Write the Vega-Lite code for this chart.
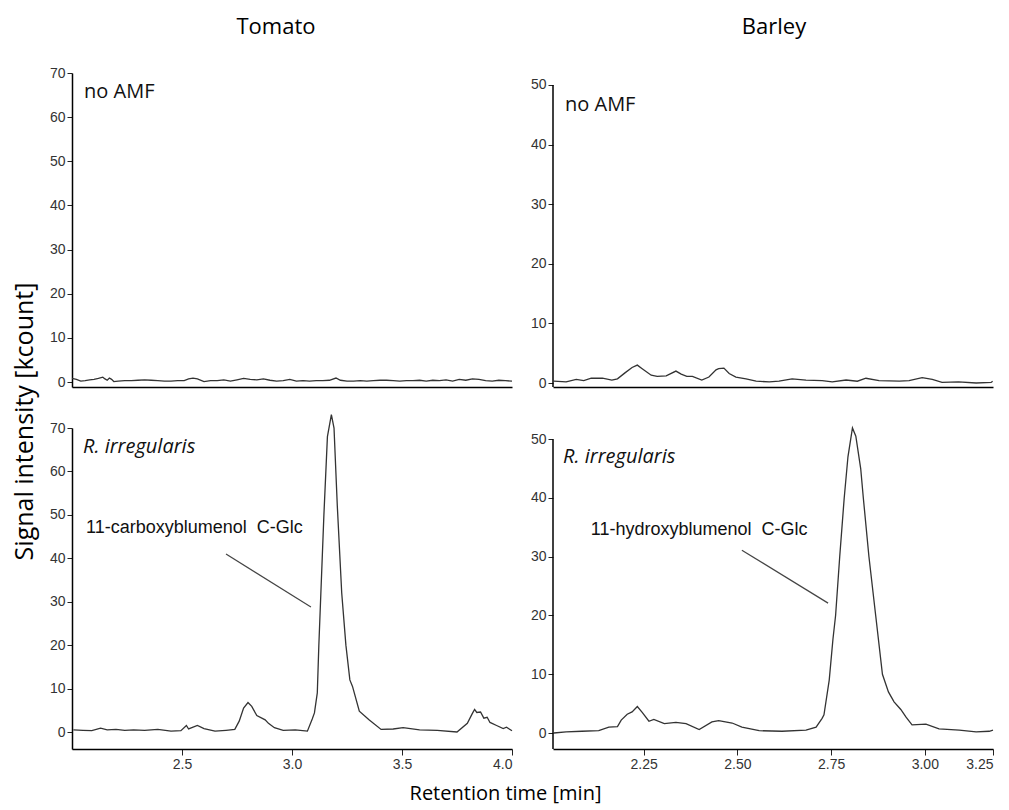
{
  "$schema": "https://vega.github.io/schema/vega-lite/v6.json",
  "padding": {"left": 12, "top": 16, "right": 0, "bottom": 6},
  "bounds": "flush",
  "columns": 2,
  "spacing": {"row": 41, "column": 41},
  "config": {
    "view": {"stroke": null},
    "axis": {
      "grid": false,
      "domainColor": "#000",
      "domainWidth": 1.5,
      "tickColor": "#222",
      "tickWidth": 1,
      "labelFont": "Liberation Sans",
      "labelFontSize": 14,
      "labelColor": "#333",
      "titleFont": "Open Sans",
      "titleFontSize": 21,
      "titleFontWeight": "normal",
      "titleColor": "#000"
    },
    "title": {"font": "Open Sans", "fontSize": 22, "fontWeight": "normal", "color": "#000", "anchor": "middle", "frame": "group", "baseline": "alphabetic"}
  },
  "datasets": {
    "one": [{}],
    "tl": [
      {"t": 2.0, "s": 0.8}, {"t": 2.02, "s": 0.6}, {"t": 2.04, "s": 0.2}, {"t": 2.06, "s": 0.3}, {"t": 2.08, "s": 0.5},
      {"t": 2.1, "s": 0.6}, {"t": 2.12, "s": 0.8}, {"t": 2.14, "s": 1.1}, {"t": 2.15, "s": 0.7}, {"t": 2.16, "s": 0.4},
      {"t": 2.17, "s": 0.9}, {"t": 2.18, "s": 0.6}, {"t": 2.19, "s": 0.1}, {"t": 2.21, "s": 0.2}, {"t": 2.24, "s": 0.3},
      {"t": 2.27, "s": 0.3}, {"t": 2.3, "s": 0.4}, {"t": 2.33, "s": 0.5}, {"t": 2.36, "s": 0.4}, {"t": 2.39, "s": 0.3},
      {"t": 2.42, "s": 0.2}, {"t": 2.45, "s": 0.2}, {"t": 2.48, "s": 0.3}, {"t": 2.51, "s": 0.3}, {"t": 2.53, "s": 0.7},
      {"t": 2.55, "s": 0.9}, {"t": 2.57, "s": 0.7}, {"t": 2.6, "s": 0.1}, {"t": 2.63, "s": 0.3}, {"t": 2.66, "s": 0.3},
      {"t": 2.69, "s": 0.5}, {"t": 2.72, "s": 0.2}, {"t": 2.75, "s": 0.5}, {"t": 2.78, "s": 0.8}, {"t": 2.81, "s": 0.6},
      {"t": 2.84, "s": 0.5}, {"t": 2.87, "s": 0.7}, {"t": 2.9, "s": 0.4}, {"t": 2.93, "s": 0.2}, {"t": 2.96, "s": 0.3},
      {"t": 2.99, "s": 0.6}, {"t": 3.02, "s": 0.2}, {"t": 3.05, "s": 0.3}, {"t": 3.08, "s": 0.2}, {"t": 3.11, "s": 0.3},
      {"t": 3.14, "s": 0.3}, {"t": 3.17, "s": 0.4}, {"t": 3.2, "s": 0.9}, {"t": 3.22, "s": 0.4}, {"t": 3.25, "s": 0.2},
      {"t": 3.28, "s": 0.2}, {"t": 3.31, "s": 0.3}, {"t": 3.34, "s": 0.2}, {"t": 3.37, "s": 0.3}, {"t": 3.4, "s": 0.4},
      {"t": 3.43, "s": 0.4}, {"t": 3.46, "s": 0.3}, {"t": 3.49, "s": 0.2}, {"t": 3.52, "s": 0.3}, {"t": 3.55, "s": 0.3},
      {"t": 3.58, "s": 0.4}, {"t": 3.61, "s": 0.2}, {"t": 3.64, "s": 0.4}, {"t": 3.67, "s": 0.3}, {"t": 3.7, "s": 0.5},
      {"t": 3.73, "s": 0.2}, {"t": 3.76, "s": 0.6}, {"t": 3.79, "s": 0.4}, {"t": 3.82, "s": 0.7}, {"t": 3.85, "s": 0.6},
      {"t": 3.88, "s": 0.3}, {"t": 3.91, "s": 0.2}, {"t": 3.94, "s": 0.4}, {"t": 3.97, "s": 0.3}, {"t": 4.0, "s": 0.2}
    ],
    "tr": [
      {"t": 2.01, "s": 0.3}, {"t": 2.043, "s": 0.2}, {"t": 2.07, "s": 0.6}, {"t": 2.09, "s": 0.4}, {"t": 2.11, "s": 0.8},
      {"t": 2.14, "s": 0.8}, {"t": 2.165, "s": 0.5}, {"t": 2.18, "s": 0.7}, {"t": 2.2, "s": 1.7}, {"t": 2.219, "s": 2.6},
      {"t": 2.233, "s": 3.0}, {"t": 2.246, "s": 2.4}, {"t": 2.27, "s": 1.3}, {"t": 2.286, "s": 1.1}, {"t": 2.31, "s": 1.2},
      {"t": 2.336, "s": 2.0}, {"t": 2.35, "s": 1.5}, {"t": 2.365, "s": 1.1}, {"t": 2.38, "s": 1.1}, {"t": 2.405, "s": 0.5},
      {"t": 2.424, "s": 1.0}, {"t": 2.443, "s": 2.2}, {"t": 2.45, "s": 2.4}, {"t": 2.464, "s": 2.5}, {"t": 2.478, "s": 1.6},
      {"t": 2.496, "s": 1.0}, {"t": 2.523, "s": 0.7}, {"t": 2.55, "s": 0.3}, {"t": 2.585, "s": 0.2}, {"t": 2.611, "s": 0.3},
      {"t": 2.646, "s": 0.7}, {"t": 2.683, "s": 0.5}, {"t": 2.726, "s": 0.4}, {"t": 2.753, "s": 0.2}, {"t": 2.79, "s": 0.5},
      {"t": 2.82, "s": 0.3}, {"t": 2.843, "s": 0.8}, {"t": 2.878, "s": 0.4}, {"t": 2.932, "s": 0.3}, {"t": 2.958, "s": 0.4},
      {"t": 2.993, "s": 0.9}, {"t": 3.02, "s": 0.6}, {"t": 3.046, "s": 0.1}, {"t": 3.09, "s": 0.2}, {"t": 3.137, "s": 0.0},
      {"t": 3.177, "s": 0.1}, {"t": 3.181, "s": 0.3}
    ],
    "bl": [
      {"t": 2.006, "s": 0.5}, {"t": 2.05, "s": 0.4}, {"t": 2.09, "s": 0.3}, {"t": 2.13, "s": 0.9}, {"t": 2.16, "s": 0.5},
      {"t": 2.2, "s": 0.6}, {"t": 2.24, "s": 0.4}, {"t": 2.28, "s": 0.5}, {"t": 2.33, "s": 0.4}, {"t": 2.39, "s": 0.6},
      {"t": 2.45, "s": 0.2}, {"t": 2.495, "s": 0.3}, {"t": 2.52, "s": 1.5}, {"t": 2.53, "s": 0.7}, {"t": 2.57, "s": 1.5},
      {"t": 2.6, "s": 0.8}, {"t": 2.65, "s": 0.2}, {"t": 2.7, "s": 0.4}, {"t": 2.74, "s": 0.6}, {"t": 2.76, "s": 2.5},
      {"t": 2.78, "s": 5.5}, {"t": 2.8, "s": 6.8}, {"t": 2.817, "s": 5.9}, {"t": 2.84, "s": 3.8}, {"t": 2.878, "s": 2.8},
      {"t": 2.893, "s": 2.0}, {"t": 2.92, "s": 1.0}, {"t": 2.96, "s": 0.4}, {"t": 3.015, "s": 0.5}, {"t": 3.07, "s": 0.2},
      {"t": 3.092, "s": 3.0}, {"t": 3.102, "s": 4.4}, {"t": 3.115, "s": 9.0}, {"t": 3.122, "s": 20.0}, {"t": 3.145, "s": 50.0},
      {"t": 3.161, "s": 68.0}, {"t": 3.179, "s": 73.1}, {"t": 3.191, "s": 70.0}, {"t": 3.206, "s": 52.0}, {"t": 3.226, "s": 32.0},
      {"t": 3.245, "s": 20.0}, {"t": 3.263, "s": 12.0}, {"t": 3.275, "s": 10.5}, {"t": 3.306, "s": 4.8}, {"t": 3.35, "s": 2.8},
      {"t": 3.405, "s": 0.6}, {"t": 3.46, "s": 0.7}, {"t": 3.505, "s": 1.0}, {"t": 3.58, "s": 0.5}, {"t": 3.66, "s": 0.4},
      {"t": 3.75, "s": 0.0}, {"t": 3.797, "s": 2.0}, {"t": 3.82, "s": 4.3}, {"t": 3.83, "s": 5.2}, {"t": 3.84, "s": 4.5},
      {"t": 3.857, "s": 4.6}, {"t": 3.872, "s": 3.2}, {"t": 3.887, "s": 3.4}, {"t": 3.9, "s": 2.2}, {"t": 3.93, "s": 1.5},
      {"t": 3.96, "s": 0.8}, {"t": 3.975, "s": 1.1}, {"t": 4.0, "s": 0.3}
    ],
    "br": [
      {"t": 2.01, "s": 0.0}, {"t": 2.043, "s": 0.2}, {"t": 2.085, "s": 0.3}, {"t": 2.13, "s": 0.4}, {"t": 2.157, "s": 1.0},
      {"t": 2.18, "s": 1.1}, {"t": 2.19, "s": 2.2}, {"t": 2.206, "s": 3.2}, {"t": 2.219, "s": 3.6}, {"t": 2.233, "s": 4.5},
      {"t": 2.246, "s": 3.5}, {"t": 2.264, "s": 2.0}, {"t": 2.277, "s": 2.3}, {"t": 2.305, "s": 1.6}, {"t": 2.336, "s": 1.8},
      {"t": 2.363, "s": 1.6}, {"t": 2.398, "s": 0.6}, {"t": 2.432, "s": 1.9}, {"t": 2.45, "s": 2.1}, {"t": 2.486, "s": 1.7},
      {"t": 2.512, "s": 1.0}, {"t": 2.558, "s": 0.4}, {"t": 2.619, "s": 0.3}, {"t": 2.683, "s": 0.5}, {"t": 2.71, "s": 1.0},
      {"t": 2.726, "s": 2.5}, {"t": 2.731, "s": 3.1}, {"t": 2.745, "s": 9.0}, {"t": 2.755, "s": 16.0}, {"t": 2.762, "s": 20.0},
      {"t": 2.773, "s": 30.0}, {"t": 2.785, "s": 40.0}, {"t": 2.795, "s": 47.0}, {"t": 2.807, "s": 51.9}, {"t": 2.816, "s": 50.5},
      {"t": 2.829, "s": 45.0}, {"t": 2.836, "s": 40.0}, {"t": 2.851, "s": 30.0}, {"t": 2.869, "s": 20.0}, {"t": 2.887, "s": 10.0},
      {"t": 2.903, "s": 7.0}, {"t": 2.918, "s": 5.3}, {"t": 2.936, "s": 4.0}, {"t": 2.95, "s": 2.7}, {"t": 2.966, "s": 1.4},
      {"t": 3.003, "s": 1.5}, {"t": 3.038, "s": 0.7}, {"t": 3.092, "s": 0.5}, {"t": 3.137, "s": 0.2}, {"t": 3.172, "s": 0.3},
      {"t": 3.182, "s": 0.5}
    ]
  },
  "concat": [
    {
      "width": 440, "height": 314,
      "title": {"text": "Tomato", "offset": 27, "dx": -16},
      "layer": [
        {
          "data": {"name": "tl"},
          "mark": {"type": "line", "color": "#333", "strokeWidth": 1.3},
          "encoding": {
            "x": {"field": "t", "type": "quantitative", "scale": {"domain": [2.0, 4.0], "nice": false, "zero": false},
                  "axis": {"ticks": false, "labels": false, "title": null}},
            "y": {"field": "s", "type": "quantitative", "scale": {"domain": [-1.13, 70], "nice": false, "zero": false},
                  "axis": {"values": [0, 10, 20, 30, 40, 50, 60, 70], "tickSize": 5, "labelPadding": 2,
                           "title": "Signal intensity [kcount]", "titleFontSize": 25, "titleX": -35, "titleY": 348}}
          }
        },
        {
          "data": {"name": "one"},
          "mark": {"type": "text", "font": "Open Sans", "fontSize": 20, "fill": "#111", "align": "left", "baseline": "middle"},
          "encoding": {"x": {"datum": 2.055}, "y": {"datum": 65.7}, "text": {"value": "no AMF"}}
        }
      ]
    },
    {
      "width": 440, "height": 314,
      "title": {"text": "Barley", "offset": 34, "dx": 1},
      "layer": [
        {
          "data": {"name": "tr"},
          "mark": {"type": "line", "color": "#333", "strokeWidth": 1.3},
          "encoding": {
            "x": {"field": "t", "type": "quantitative", "scale": {"domain": [2.008, 3.182], "nice": false, "zero": false},
                  "axis": {"ticks": false, "labels": false, "title": null}},
            "y": {"field": "s", "type": "quantitative", "scale": {"domain": [-0.67, 52.0], "nice": false, "zero": false},
                  "axis": {"values": [0, 10, 20, 30, 40, 50], "tickSize": 5, "labelPadding": 2, "domain": false, "title": null}}
          }
        },
        {
          "data": {"name": "one"},
          "mark": {"type": "rule", "color": "#000", "strokeWidth": 1.5},
          "encoding": {"x": {"datum": 2.008}, "y": {"datum": -0.67}, "y2": {"datum": 50}}
        },
        {
          "data": {"name": "one"},
          "mark": {"type": "text", "font": "Open Sans", "fontSize": 20, "fill": "#111", "align": "left", "baseline": "middle"},
          "encoding": {"x": {"datum": 2.04}, "y": {"datum": 46.6}, "text": {"value": "no AMF"}}
        }
      ]
    },
    {
      "width": 440, "height": 321,
      "layer": [
        {
          "data": {"name": "bl"},
          "mark": {"type": "line", "color": "#333", "strokeWidth": 1.3},
          "encoding": {
            "x": {"field": "t", "type": "quantitative", "scale": {"domain": [2.0, 4.0], "nice": false, "zero": false},
                  "axis": {"values": [2.5, 3.0, 3.5, 4.0], "format": ".1f", "tickSize": 6, "labelPadding": 2,
                           "title": "Retention time [min]", "titleFontSize": 20, "titleX": 433, "titleY": 50, "titleBaseline": "alphabetic"}},
            "y": {"field": "s", "type": "quantitative", "scale": {"domain": [-3.91, 70], "nice": false, "zero": false},
                  "axis": {"values": [0, 10, 20, 30, 40, 50, 60, 70], "tickSize": 5, "labelPadding": 2, "title": null}}
          }
        },
        {
          "data": {"name": "one"},
          "mark": {"type": "text", "font": "Open Sans", "fontSize": 20, "fontStyle": "italic", "fill": "#111", "align": "left", "baseline": "middle"},
          "encoding": {"x": {"datum": 2.05}, "y": {"datum": 65.6}, "text": {"value": "R. irregularis"}}
        },
        {
          "data": {"name": "one"},
          "mark": {"type": "text", "font": "Liberation Sans", "fontSize": 18, "fill": "#111", "align": "left", "baseline": "middle"},
          "encoding": {"x": {"datum": 2.064}, "y": {"datum": 47.0}, "text": {"value": "11-carboxyblumenol\u00a0 C-Glc"}}
        },
        {
          "data": {"name": "one"},
          "mark": {"type": "rule", "color": "#444", "strokeWidth": 1.2},
          "encoding": {"x": {"datum": 2.70}, "y": {"datum": 41.0}, "x2": {"datum": 3.086}, "y2": {"datum": 28.8}}
        }
      ]
    },
    {
      "width": 440, "height": 321,
      "layer": [
        {
          "data": {"name": "br"},
          "mark": {"type": "line", "color": "#333", "strokeWidth": 1.3},
          "encoding": {
            "x": {"field": "t", "type": "quantitative", "scale": {"domain": [2.008, 3.182], "nice": false, "zero": false},
                  "axis": {"values": [2.25, 2.5, 2.75, 3.0, 3.182], "tickSize": 6, "labelPadding": 2, "title": null,
                           "labelExpr": "datum.value > 3.1 ? '3.25' : format(datum.value, '.2f')"}},
            "y": {"field": "s", "type": "quantitative", "scale": {"domain": [-2.72, 51.9], "nice": false, "zero": false},
                  "axis": {"values": [0, 10, 20, 30, 40, 50], "tickSize": 5, "labelPadding": 2, "domain": false, "title": null}}
          }
        },
        {
          "data": {"name": "one"},
          "mark": {"type": "rule", "color": "#000", "strokeWidth": 1.5},
          "encoding": {"x": {"datum": 2.008}, "y": {"datum": -2.72}, "y2": {"datum": 50}}
        },
        {
          "data": {"name": "one"},
          "mark": {"type": "text", "font": "Open Sans", "fontSize": 20, "fontStyle": "italic", "fill": "#111", "align": "left", "baseline": "middle"},
          "encoding": {"x": {"datum": 2.035}, "y": {"datum": 46.9}, "text": {"value": "R. irregularis"}}
        },
        {
          "data": {"name": "one"},
          "mark": {"type": "text", "font": "Liberation Sans", "fontSize": 18, "fill": "#111", "align": "left", "baseline": "middle"},
          "encoding": {"x": {"datum": 2.109}, "y": {"datum": 34.5}, "text": {"value": "11-hydroxyblumenol\u00a0 C-Glc"}}
        },
        {
          "data": {"name": "one"},
          "mark": {"type": "rule", "color": "#444", "strokeWidth": 1.2},
          "encoding": {"x": {"datum": 2.512}, "y": {"datum": 31.1}, "x2": {"datum": 2.742}, "y2": {"datum": 22.1}}
        }
      ]
    }
  ]
}
